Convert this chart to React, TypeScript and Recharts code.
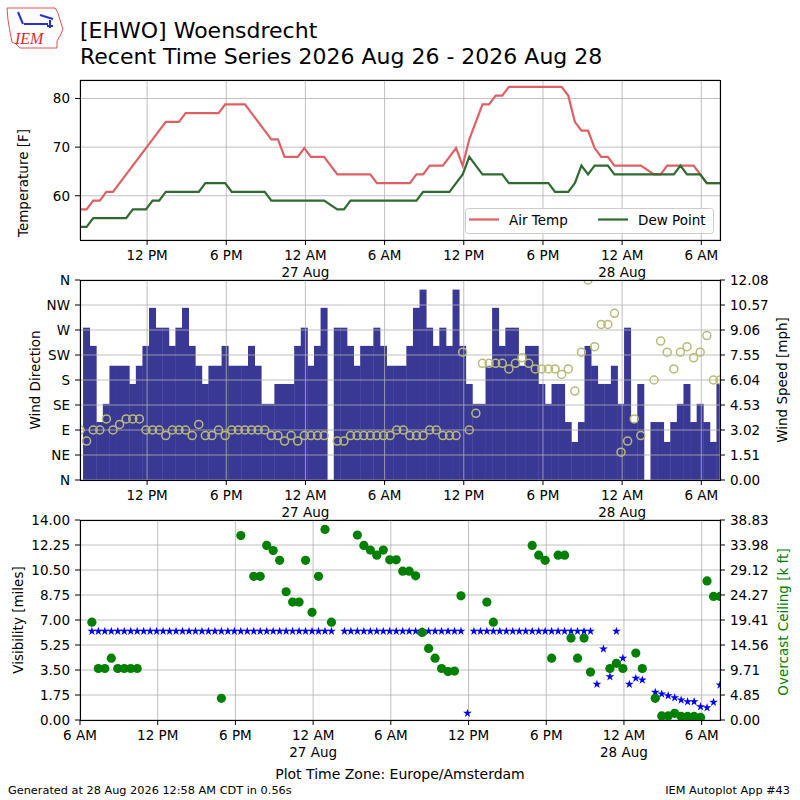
import React from "react";
import { Bar, CartesianGrid, ComposedChart, Line, Scatter, XAxis, YAxis } from "recharts";

const FONT = "'DejaVu Sans', sans-serif";
const GRID = "#b0b0b0";

// half-hourly observations, hours after 26 Aug 00:00 (Europe/Amsterdam)
const FIRST_OBS = 6 + 55 / 60;
const OBS_STEP = 0.5;

const airTempF = [
  57.2, 57.2, 59, 59, 60.8, 60.8, 62.6, 64.4, 66.2, 68,
  69.8, 71.6, 73.4, 75.2, 75.2, 75.2, 77, 77, 77, 77,
  77, 77, 78.8, 78.8, 78.8, 78.8, 77, 75.2, 73.4, 71.6,
  71.6, 68, 68, 68, 69.8, 68, 68, 68, null, 64.4,
  64.4, 64.4, 64.4, 64.4, 64.4, 62.6, 62.6, 62.6, 62.6, 62.6,
  62.6, 64.4, 64.4, 66.2, 66.2, 66.2, 68, 69.8, 66.2, 71.6,
  75.2, 78.8, 78.8, 80.6, 80.6, 82.4, 82.4, 82.4, 82.4, 82.4,
  82.4, 82.4, 82.4, 82.4, 80.6, 75.2, 73.4, 73.4, 69.8, 68,
  68, 66.2, 66.2, 66.2, 66.2, 66.2, null, 64.4, 64.4, 66.2,
  66.2, 66.2, 66.2, 66.2, 64.4, 62.6, 62.6, 62.6,
];

const dewPointF = [
  53.6, 53.6, 55.4, 55.4, 55.4, 55.4, 55.4, 55.4, 57.2, 57.2,
  57.2, 59, 59, 60.8, 60.8, 60.8, 60.8, 60.8, 60.8, 62.6,
  62.6, 62.6, 62.6, 60.8, 60.8, 60.8, 60.8, 60.8, 60.8, 59,
  59, 59, 59, 59, 59, 59, 59, 59, null, 57.2,
  57.2, 59, 59, 59, 59, 59, 59, 59, 59, 59,
  59, 59, 60.8, 60.8, 60.8, 60.8, 60.8, 62.6, 64.4, 68,
  66.2, 64.4, 64.4, 64.4, 64.4, 62.6, 62.6, 62.6, 62.6, 62.6,
  62.6, 62.6, 60.8, 60.8, 60.8, 62.6, 66.2, 64.4, 66.2, 66.2,
  66.2, 64.4, 64.4, 64.4, 64.4, 64.4, null, 64.4, 64.4, 64.4,
  64.4, 66.2, 64.4, 64.4, 64.4, 62.6, 62.6, 62.6,
];

const windSpeedMph = [
  null, 9.2, 8.1, 3.5, 4.6, 6.9, 6.9, 6.9, 5.8, 6.9,
  8.1, 10.4, 9.2, 9.2, 8.1, 9.2, 10.4, 8.1, 6.9, 5.8,
  6.9, 6.9, 8.1, 6.9, 6.9, 6.9, 8.1, 6.9, 4.6, 4.6,
  5.8, 5.8, 5.8, 8.1, 9.2, 6.9, 8.1, 10.4, null, 9.2,
  9.2, 8.1, 6.9, 8.1, 8.1, 9.2, 8.1, 6.9, 6.9, 6.9,
  8.1, 10.4, 11.5, 9.2, 8.1, 9.2, 8.1, 11.5, 8.1, 5.8,
  4.6, 4.6, 6.9, 10.4, 8.1, 9.2, 9.2, 6.9, 8.1, 8.1,
  5.8, 4.6, 5.8, 5.8, 3.5, 2.3, 3.5, 8.1, 6.9, 5.8,
  5.8, 6.9, 4.6, 9.2, 3.5, 5.8, null, 3.5, 3.5, 2.3,
  3.5, 4.6, 5.8, 3.5, 4.6, 3.5, 2.3, 5.8,
];

const windDirDeg = [
  90, 70, 90, 90, 110, 90, 100, 110, 110, 110,
  90, 90, 90, 80, 90, 90, 90, 80, 100, 80,
  80, 90, 80, 90, 90, 90, 90, 90, 90, 80,
  80, 70, 80, 70, 80, 80, 80, 80, null, 70,
  70, 80, 80, 80, 80, 80, 80, 80, 90, 90,
  80, 80, 80, 90, 90, 80, 80, 80, 230, 90,
  120, 210, 210, 210, 210, 200, 210, 220, 210, 200,
  200, 200, 200, 190, 200, 160, 230, 360, 240, 280,
  280, 300, 50, 70, 110, 80, null, 180, 250, 230,
  200, 230, 240, 220, 230, 260, 180, 180,
];

const visibilityMi = [
  6.21, 6.21, 6.21, 6.21, 6.21, 6.21, 6.21, 6.21, 6.21, 6.21,
  6.21, 6.21, 6.21, 6.21, 6.21, 6.21, 6.21, 6.21, 6.21, 6.21,
  6.21, 6.21, 6.21, 6.21, 6.21, 6.21, 6.21, 6.21, 6.21, 6.21,
  6.21, 6.21, 6.21, 6.21, 6.21, 6.21, 6.21, 6.21, null, 6.21,
  6.21, 6.21, 6.21, 6.21, 6.21, 6.21, 6.21, 6.21, 6.21, 6.21,
  6.21, 6.21, 6.21, 6.21, 6.21, 6.21, 6.21, 6.21, 0.47, 6.21,
  6.21, 6.21, 6.21, 6.21, 6.21, 6.21, 6.21, 6.21, 6.21, 6.21,
  6.21, 6.21, 6.21, 6.21, 6.21, 6.21, 6.21, 6.21, 2.5, 4.97,
  3.03, 6.21, 4.32, 2.5, 2.92, 2.8, null, 1.94, 1.82, 1.7,
  1.56, 1.4, 1.28, 1.28, 0.93, 0.86, 1.24, 2.45,
];

const ceilingKft = [
  19.0, 10.0, 10.0, 12.0, 10.0, 10.0, 10.0, 10.0, null, null,
  null, null, null, null, null, null, null, null, null, null,
  4.2, null, null, 35.8, null, 27.9, 27.9, 33.9, 32.9, 31.0,
  24.9, 22.9, 22.9, 31.0, 20.9, 27.9, 37.0, 19.0, null, null,
  null, 35.9, 33.9, 33.0, 32.0, 33.0, 31.1, 31.1, 28.9, 28.9,
  28.0, 17.0, 13.9, 12.0, 10.0, 9.4, 9.5, 24.1, null, null,
  null, 22.9, 19.0, null, null, null, null, null, 33.9, 32.0,
  31.0, 12.0, 32.0, 32.0, 15.9, 12.0, 15.9, 9.3, null, null,
  10.0, 11.0, 10.0, null, 13.0, 10.0, null, 4.2, 0.8, 0.8,
  1.3, 0.7, 0.7, 0.7, 0.5, 27.0, 24.0, 24.0,
];

const TIME_TICKS = [6, 12, 18, 24, 30, 36, 42, 48, 54];
const TIME_LABELS = ["6 AM", "12 PM", "6 PM", "12 AM", "6 AM", "12 PM", "6 PM", "12 AM", "6 AM"];
const TIME_DATES = ["", "", "", "27 Aug", "", "", "", "28 Aug", ""];

const TEMP_TICKS = [60, 70, 80];
const DIR_TICKS = [0, 45, 90, 135, 180, 225, 270, 315, 360];
const DIR_LABELS = ["N", "NE", "E", "SE", "S", "SW", "W", "NW", "N"];
const SPEED_TICKS = [0, 1.51, 3.02, 4.53, 6.04, 7.55, 9.06, 10.57, 12.08];
const VIS_TICKS = [0, 1.75, 3.5, 5.25, 7, 8.75, 10.5, 12.25, 14];
const CEIL_TICKS = [0, 4.85, 9.71, 14.56, 19.41, 24.27, 29.12, 33.98, 38.83];

const obsHours = airTempF.map((_, i) => FIRST_OBS + i * OBS_STEP);
const LAST_OBS = obsHours[obsHours.length - 1];

const tempRows = obsHours.map((t, i) => ({ t, tmpf: airTempF[i], dwpf: dewPointF[i] }));
const windRows = obsHours.map((t, i) => ({ t, sped: windSpeedMph[i] }));
const dirPoints = obsHours
  .map((t, i) => ({ t, drct: windDirDeg[i] }))
  .filter((p) => p.drct !== null);
const visPoints = obsHours
  .map((t, i) => ({ t, vsby: visibilityMi[i] }))
  .filter((p) => p.vsby !== null);
const ceilPoints = obsHours
  .map((t, i) => ({ t, ceil: ceilingKft[i] }))
  .filter((p) => p.ceil !== null);

const tickStyle = { fill: "#000", fontSize: 13.5, fontFamily: FONT };

function TimeTick(props: any) {
  const { x, y, payload } = props;
  const idx = TIME_TICKS.indexOf(payload.value);
  return (
    <g>
      <text x={x} y={y + 10} textAnchor="middle" fill="#000" fontSize={13.5} fontFamily={FONT}>
        {TIME_LABELS[idx]}
      </text>
      {TIME_DATES[idx] && (
        <text x={x} y={y + 27} textAnchor="middle" fill="#000" fontSize={13.5} fontFamily={FONT}>
          {TIME_DATES[idx]}
        </text>
      )}
    </g>
  );
}

function starPath(cx: number, cy: number, R: number) {
  const r = R * 0.382;
  let d = "";
  for (let k = 0; k < 10; k++) {
    const rad = k % 2 === 0 ? R : r;
    const a = -Math.PI / 2 + (k * Math.PI) / 5;
    d += (k === 0 ? "M" : "L") + (cx + rad * Math.cos(a)).toFixed(2) + "," + (cy + rad * Math.sin(a)).toFixed(2);
  }
  return d + "Z";
}

// bars touch each other like matplotlib's full-width bars
function SpeedBar(p: any) {
  if (p.height == null || !(p.height > 0)) return null;
  return <rect x={p.x - 0.25} y={p.y} width={p.width + 0.5} height={p.height} fill="#3a3895" />;
}

const xAxisCommon = {
  dataKey: "t",
  type: "number" as const,
  allowDataOverflow: true,
  interval: 0 as const,
  height: 50,
  tickSize: 5,
  tickMargin: 5,
  axisLine: false,
  tickLine: { stroke: "#000" },
  tick: (p: any) => <TimeTick {...p} />,
};

const yAxisCommon = {
  width: 80,
  allowDataOverflow: true,
  interval: 0 as const,
  tickSize: 5,
  tickMargin: 5,
  axisLine: false,
  tickLine: { stroke: "#000" },
  tick: tickStyle,
};

function TempPanel() {
  return (
    <div style={{ position: "absolute", left: 0, top: 60 }}>
      <ComposedChart width={800} height={230} data={tempRows} margin={{ top: 20, right: 80, bottom: 0, left: 0 }}>
        <CartesianGrid yAxisId="temp" stroke={GRID} strokeWidth={0.8} />
        <XAxis {...xAxisCommon} domain={[FIRST_OBS, LAST_OBS]} ticks={TIME_TICKS.slice(1)} />
        <YAxis {...yAxisCommon} yAxisId="temp" domain={[50.9, 83.8]} ticks={TEMP_TICKS} />
        <Line yAxisId="temp" type="linear" dataKey="tmpf" stroke="#df6064" strokeWidth={2.2} dot={false} connectNulls isAnimationActive={false} />
        <Line yAxisId="temp" type="linear" dataKey="dwpf" stroke="#2f6a31" strokeWidth={2.2} dot={false} connectNulls isAnimationActive={false} />
      </ComposedChart>
    </div>
  );
}

function WindPanel() {
  return (
    <div style={{ position: "absolute", left: 0, top: 270 }}>
      <ComposedChart
        width={800}
        height={260}
        data={windRows}
        margin={{ top: 10, right: 0, bottom: 0, left: 0 }}
        barCategoryGap={0}
        barGap={0}
      >
        <XAxis {...xAxisCommon} domain={[FIRST_OBS, LAST_OBS]} ticks={TIME_TICKS.slice(1)} />
        <YAxis
          {...yAxisCommon}
          yAxisId="dir"
          domain={[0, 360]}
          ticks={DIR_TICKS}
          tickFormatter={(v: number) => DIR_LABELS[Math.round(v / 45)]}
        />
        <YAxis
          {...yAxisCommon}
          yAxisId="spd"
          orientation="right"
          domain={[0, 12.08]}
          ticks={SPEED_TICKS}
          tickFormatter={(v: number) => v.toFixed(2)}
        />
        <Bar yAxisId="spd" dataKey="sped" fill="#3a3895" barSize={6.5} shape={SpeedBar} isAnimationActive={false} />
        <CartesianGrid yAxisId="dir" stroke={GRID} strokeWidth={0.8} zIndex={350} />
        <Scatter
          yAxisId="dir"
          data={dirPoints}
          dataKey="drct"
          isAnimationActive={false}
          shape={(p: any) => <circle cx={p.cx} cy={p.cy} r={4} fill="none" stroke="#b8ba78" strokeWidth={1.5} />}
        />
      </ComposedChart>
    </div>
  );
}

function SkyPanel() {
  return (
    <div style={{ position: "absolute", left: 0, top: 510 }}>
      <ComposedChart width={800} height={260} margin={{ top: 10, right: 0, bottom: 0, left: 0 }}>
        <CartesianGrid yAxisId="vis" stroke={GRID} strokeWidth={0.8} />
        <XAxis {...xAxisCommon} domain={[6, LAST_OBS]} ticks={TIME_TICKS} />
        <YAxis {...yAxisCommon} yAxisId="vis" domain={[0, 14]} ticks={VIS_TICKS} tickFormatter={(v: number) => v.toFixed(2)} />
        <YAxis
          {...yAxisCommon}
          yAxisId="ceil"
          orientation="right"
          domain={[0, 38.83]}
          ticks={CEIL_TICKS}
          tickFormatter={(v: number) => v.toFixed(2)}
        />
        <Scatter
          yAxisId="vis"
          data={visPoints}
          dataKey="vsby"
          isAnimationActive={false}
          shape={(p: any) => <path d={starPath(p.cx, p.cy, 4.6)} fill="#0000ff" />}
        />
        <Scatter
          yAxisId="ceil"
          data={ceilPoints}
          dataKey="ceil"
          isAnimationActive={false}
          shape={(p: any) => <circle cx={p.cx} cy={p.cy} r={4.6} fill="#008000" />}
        />
      </ComposedChart>
    </div>
  );
}

function VLabel({ x, y, text, color = "#000" }: { x: number; y: number; text: string; color?: string }) {
  return (
    <text
      x={x}
      y={y}
      transform={`rotate(-90, ${x}, ${y})`}
      textAnchor="middle"
      dominantBaseline="central"
      fontSize={13.5}
      fontFamily={FONT}
      fill={color}
    >
      {text}
    </text>
  );
}

function Overlay() {
  return (
    <svg width={800} height={800} style={{ position: "absolute", left: 0, top: 0, pointerEvents: "none" }}>
      {/* logo */}
      <path
        d="M7,8 L55,8 L58,13 L60,20 L63,29 L60,36 L57,41 L57,48 L20,48 L16,44 L12,42 L10,32 L8,20 Z"
        fill="none"
        stroke="#e05050"
        strokeWidth={1}
      />
      <path d="M18,12 L23,24 M24,24 L48,24 M40,15 L53,19 M50,20 L50,28 M47,26 L53,26" stroke="#2233cc" strokeWidth={2} fill="none" />
      <text x={15} y={44} fill="#d42a2a" fontStyle="italic" fontFamily="'Liberation Serif', serif" fontSize={16}>
        IEM
      </text>

      <text x={80} y={37.5} fontSize={22} fontFamily={FONT} fill="#000">
        [EHWO] Woensdrecht
      </text>
      <text x={80} y={64} fontSize={22} fontFamily={FONT} fill="#000">
        Recent Time Series 2026 Aug 26 - 2026 Aug 28
      </text>

      {/* panel frames */}
      <rect x={80.5} y={80.5} width={640} height={160} fill="none" stroke="#000" strokeWidth={1.1} />
      <rect x={80.5} y={280.5} width={640} height={200} fill="none" stroke="#000" strokeWidth={1.1} />
      <rect x={80.5} y={520.5} width={640} height={200} fill="none" stroke="#000" strokeWidth={1.1} />

      {/* legend */}
      <rect x={465.5} y={208.5} width={248} height={25} rx={3} fill="#fff" fillOpacity={0.8} stroke="#cccccc" />
      <line x1={469} y1={219.5} x2={499} y2={219.5} stroke="#df6064" strokeWidth={2.2} />
      <text x={509} y={224.5} fontSize={13.5} fontFamily={FONT} fill="#000">
        Air Temp
      </text>
      <line x1={598} y1={219.5} x2={628} y2={219.5} stroke="#2f6a31" strokeWidth={2.2} />
      <text x={638} y={224.5} fontSize={13.5} fontFamily={FONT} fill="#000">
        Dew Point
      </text>

      <VLabel x={23} y={183} text="Temperature [F]" />
      <VLabel x={35} y={380} text="Wind Direction" />
      <VLabel x={782} y={380} text="Wind Speed [mph]" />
      <VLabel x={18} y={620} text="Visibility [miles]" />
      <VLabel x={783} y={622} text="Overcast Ceiling [k ft]" color="#008000" />

      <text x={400} y={778.5} textAnchor="middle" fontSize={14} fontFamily={FONT} fill="#000">
        Plot Time Zone: Europe/Amsterdam
      </text>
      <text x={8} y={793.5} fontSize={11.3} fontFamily={FONT} fill="#000">
        Generated at 28 Aug 2026 12:58 AM CDT in 0.56s
      </text>
      <text x={790} y={793.5} textAnchor="end" fontSize={11.3} fontFamily={FONT} fill="#000">
        IEM Autoplot App #43
      </text>
    </svg>
  );
}

export default function App() {
  return (
    <div style={{ position: "absolute", left: 0, top: 0, width: 800, height: 800, background: "#fff", fontFamily: FONT }}>
      <TempPanel />
      <WindPanel />
      <SkyPanel />
      <Overlay />
    </div>
  );
}
